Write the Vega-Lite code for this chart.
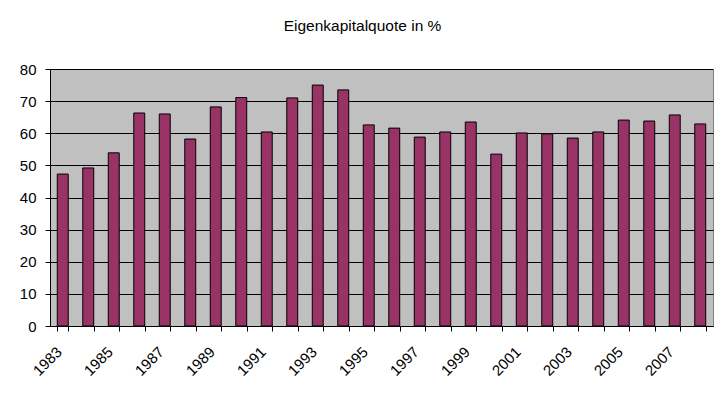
{
  "$schema": "https://vega.github.io/schema/vega-lite/v6.json",
  "autosize": {"type": "none"},
  "width": 663,
  "height": 257,
  "padding": {"left": 50, "top": 69, "right": 14, "bottom": 71},
  "background": "white",
  "title": {"text": "Eigenkapitalquote in %", "font": "Liberation Sans", "fontSize": 15.5, "fontWeight": "normal", "color": "black", "offset": 28, "dx": -19, "anchor": "middle"},
  "data": {"values": [
    {"year": 1983, "value": 47.3},
    {"year": 1984, "value": 49.2},
    {"year": 1985, "value": 53.9},
    {"year": 1986, "value": 66.3},
    {"year": 1987, "value": 66.0},
    {"year": 1988, "value": 58.2},
    {"year": 1989, "value": 68.2},
    {"year": 1990, "value": 71.1},
    {"year": 1991, "value": 60.4},
    {"year": 1992, "value": 71.0},
    {"year": 1993, "value": 75.0},
    {"year": 1994, "value": 73.5},
    {"year": 1995, "value": 62.6},
    {"year": 1996, "value": 61.6},
    {"year": 1997, "value": 58.8},
    {"year": 1998, "value": 60.4},
    {"year": 1999, "value": 63.5},
    {"year": 2000, "value": 53.5},
    {"year": 2001, "value": 60.1},
    {"year": 2002, "value": 59.8},
    {"year": 2003, "value": 58.5},
    {"year": 2004, "value": 60.4},
    {"year": 2005, "value": 64.1},
    {"year": 2006, "value": 63.8},
    {"year": 2007, "value": 65.7},
    {"year": 2008, "value": 62.9}
  ]},
  "mark": {"type": "bar", "fill": "#993366", "stroke": "black", "strokeWidth": 1},
  "encoding": {
    "x": {"field": "year", "type": "ordinal", "title": null,
      "scale": {"paddingInner": 0.57, "paddingOuter": 0.285},
      "axis": {"labelAngle": -45, "labelAlign": "right", "labelBaseline": "middle", "labelPadding": 18,
        "bandPosition": 0.34, "labelOffset": -4,
        "labelExpr": "datum.value % 2 == 1 ? datum.label : ''",
        "tickBand": "extent", "tickSize": 5, "tickColor": "black", "domainColor": "black",
        "labelFont": "Liberation Sans", "labelFontSize": 15, "labelColor": "black", "labelOverlap": false, "labelLimit": 0}},
    "y": {"field": "value", "type": "quantitative", "title": null,
      "scale": {"domain": [0, 80], "nice": false},
      "axis": {"values": [0, 10, 20, 30, 40, 50, 60, 70, 80], "tickSize": 5, "tickColor": "black", "domainColor": "black",
        "gridColor": "black", "gridOpacity": 1, "labelPadding": 9,
        "labelFont": "Liberation Sans", "labelFontSize": 15, "labelColor": "black"}}
  },
  "config": {
    "view": {"fill": "#C0C0C0", "stroke": "#808080", "strokeWidth": 1},
    "axis": {"domainWidth": 1, "tickWidth": 1, "gridWidth": 1}
  }
}
